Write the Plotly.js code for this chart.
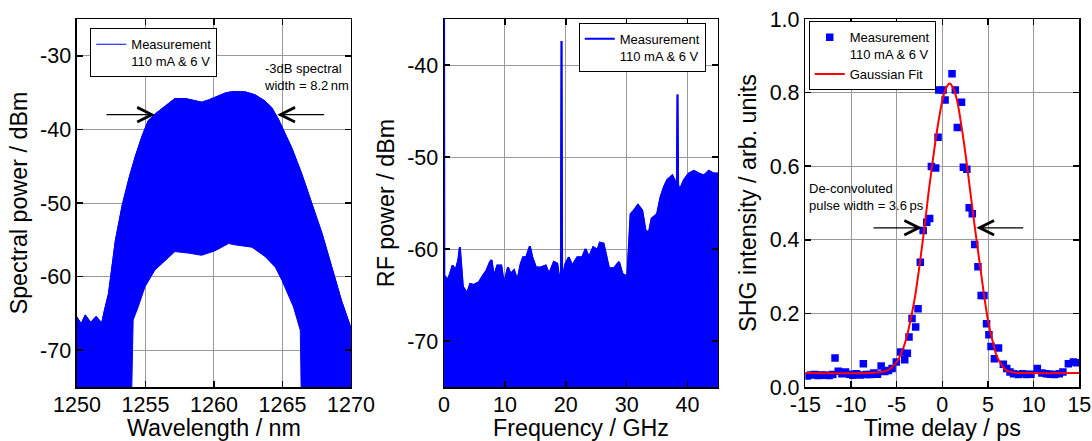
<!DOCTYPE html>
<html>
<head>
<meta charset="utf-8">
<script src="https://cdn.plot.ly/plotly-3.0.1.min.js"></script>
<style>html,body{margin:0;padding:0;background:#fff;}#chart{width:1092px;height:441px;}</style>
</head>
<body>
<div id="chart"></div>
<script>
// ---------- Panel 1: optical spectrum (envelopes of the dense measurement) ----------
const specUpperX = [1250, 1250.3, 1250.6, 1251.0, 1251.4, 1251.8, 1252.0, 1252.3, 1252.8, 1253.3, 1253.8, 1254.25, 1254.75, 1255.2, 1255.7, 1256.2, 1256.7, 1257.15, 1257.9, 1258.5, 1259.1, 1259.6, 1260.1, 1260.9, 1261.5, 1262.3, 1263.0, 1263.7, 1264.2, 1264.7, 1265.2, 1265.7, 1266.4, 1267.15, 1267.9, 1268.6, 1269.3, 1269.8, 1270];
const specUpperY = [-65.5, -66.4, -65.2, -66.2, -65.4, -66.3, -64.6, -62.3, -55.1, -50.3, -46.6, -43.7, -40.9, -38.8, -37.9, -37.2, -36.4, -35.8, -35.8, -36.1, -36.3, -36.0, -35.6, -35.0, -34.85, -34.9, -35.3, -36.1, -37.0, -38.6, -40.6, -42.6, -46.0, -50.1, -54.2, -58.7, -63.2, -65.9, -67.0];
const specLowerX = [1250, 1253.9, 1254.0, 1254.1, 1254.47, 1254.96, 1255.69, 1256.42, 1257.15, 1258.12, 1259.1, 1260.07, 1261.07, 1261.6, 1262.77, 1263.75, 1264.47, 1264.96, 1265.45, 1265.8, 1266.3, 1266.4, 1270];
const specLowerY = [-80, -80, -75, -65.9, -64.1, -61.4, -59.1, -57.8, -56.6, -56.8, -57.1, -56.5, -55.5, -55.7, -56.0, -57.3, -58.7, -60.5, -62.75, -64.1, -67.3, -80, -80];

// ---------- Panel 2: RF spectrum (upper envelope) ----------
const rfFreq = [0, 0.05, 0.2, 0.55, 1.0, 1.4, 1.9, 2.35, 2.6, 2.85, 3.1, 3.8, 4.3, 4.9, 5.75, 6.3, 7.0, 7.55, 7.8, 8.2, 8.75, 9.4, 9.85, 10.5, 10.95, 11.5, 12.05, 12.6, 13.0, 13.5, 14.1, 14.5, 15.1, 15.9, 16.7, 17.25, 18.05, 18.6, 19.05, 19.2, 19.3, 19.4, 19.5, 19.95, 20.5, 21.05, 21.9, 22.7, 23.25, 23.8, 24.5, 25.2, 25.6, 26.2, 26.55, 27.1, 27.9, 28.75, 29.3, 30.1, 30.65, 31.2, 31.85, 32.55, 33.1, 33.65, 34.1, 35.0, 35.55, 36.1, 36.65, 37.5, 38.0, 38.25, 38.35, 38.45, 38.7, 39.4, 40.2, 41.05, 41.9, 42.7, 43.5, 44.3, 45];
const rfPower = [-30, -63.0, -63.0, -63.4, -62.7, -61.8, -62.3, -61.2, -59.8, -62.0, -64.1, -64.8, -63.8, -63.9, -63.6, -63.0, -62.3, -61.4, -61.2, -63.0, -61.8, -61.8, -63.8, -62.0, -62.7, -62.3, -63.4, -61.6, -60.9, -60.9, -59.7, -60.9, -62.0, -62.0, -61.8, -62.7, -61.4, -61.6, -63.9, -62.5, -37.4, -62.5, -63.0, -61.6, -60.9, -61.8, -60.9, -60.9, -60.0, -60.9, -59.8, -60.1, -59.3, -59.4, -60.5, -62.1, -62.1, -61.4, -62.7, -63.0, -56.2, -55.8, -55.2, -55.8, -58.0, -58.2, -56.7, -56.2, -54.4, -53.3, -52.5, -52.0, -52.7, -53.0, -43.2, -53.0, -53.6, -52.5, -51.8, -51.5, -51.8, -52.0, -51.5, -51.8, -51.8];
const rfFloorX = [0, 45];
const rfFloorY = [-80, -80];

// ---------- Panel 3: SHG autocorrelation ----------
const shgDelay = [-14.8, -14.4, -14.0, -13.6, -13.2, -12.8, -12.4, -12.0, -11.75, -11.4, -11.0, -10.6, -10.2, -9.8, -9.4, -9.0, -8.65, -8.3, -7.9, -7.5, -7.1, -6.7, -6.3, -5.9, -5.5, -5.04, -4.56, -4.12, -3.83, -3.65, -3.32, -2.92, -2.66, -2.41, -2.1, -1.71, -1.39, -1.2, -0.73, -0.47, -0.39, 0.08, 0.3, 1.06, 1.42, 1.64, 2.1, 2.3, 2.68, 2.94, 3.28, 3.55, 3.9, 4.25, 4.56, 4.84, 5.1, 5.33, 5.7, 6.15, 6.68, 7.05, 7.41, 7.8, 8.32, 8.8, 9.23, 9.7, 10.4, 10.9, 11.4, 11.8, 12.3, 12.8, 13.2, 13.8, 14.35, 14.7];
const shgSignal = [0.030, 0.033, 0.034, 0.031, 0.033, 0.032, 0.031, 0.034, 0.079, 0.043, 0.036, 0.041, 0.035, 0.032, 0.036, 0.033, 0.063, 0.034, 0.034, 0.038, 0.035, 0.057, 0.042, 0.045, 0.050, 0.068, 0.095, 0.074, 0.092, 0.136, 0.186, 0.163, 0.213, 0.339, 0.425, 0.448, 0.458, 0.599, 0.595, 0.679, 0.807, 0.807, 0.780, 0.851, 0.807, 0.705, 0.774, 0.597, 0.592, 0.487, 0.471, 0.387, 0.327, 0.249, 0.249, 0.172, 0.142, 0.110, 0.077, 0.106, 0.062, 0.050, 0.041, 0.036, 0.034, 0.036, 0.034, 0.035, 0.050, 0.038, 0.036, 0.035, 0.034, 0.036, 0.041, 0.063, 0.068, 0.066];
const fitDelay = [-15, -8, -7, -6, -5, -4.5, -4, -3.5, -3, -2.5, -2, -1.5, -1, -0.5, 0, 0.4, 0.8, 1.2, 1.6, 2, 2.5, 3, 3.5, 4, 4.5, 5, 5.5, 6, 6.5, 7, 8, 9, 15];
const fitSignal = [0.038, 0.038, 0.040, 0.045, 0.068, 0.092, 0.127, 0.180, 0.244, 0.330, 0.425, 0.530, 0.624, 0.710, 0.778, 0.812, 0.825, 0.812, 0.780, 0.724, 0.640, 0.543, 0.445, 0.353, 0.262, 0.181, 0.125, 0.081, 0.060, 0.045, 0.039, 0.038, 0.038];

// ---------- Ticks ----------
const specTickVals = [1250, 1255, 1260, 1265, 1270];
const specTickText = ['1250', '1255', '1260', '1265', '1270'];
const specYTickVals = [-70, -60, -50, -40, -30];
const specYTickText = ['-70', '-60', '-50', '-40', '-30'];
const rfTickVals = [0, 10, 20, 30, 40];
const rfTickText = ['0', '10', '20', '30', '40'];
const rfYTickVals = [-70, -60, -50, -40];
const rfYTickText = ['-70', '-60', '-50', '-40'];
const shgTickVals = [-15, -10, -5, 0, 5, 10, 15];
const shgTickText = ['-15', '-10', '-5', '0', '5', '10', '15'];
const shgYTickVals = [0, 0.2, 0.4, 0.6, 0.8, 1.0];
const shgYTickText = ['0.0', '0.2', '0.4', '0.6', '0.8', '1.0'];

const legendName = 'Measurement<br>110 mA &amp; 6 V';
const BLUE = '#0000ff';
const RED = '#ff0000';
const FONT = 'Liberation Sans, Arial, sans-serif';
const TICK_SIZE = 21.5;
const TITLE_SIZE = 23.3;

const traces = [
  // panel 1
  {x: specLowerX, y: specLowerY, xaxis: 'x', yaxis: 'y', mode: 'lines', line: {color: BLUE, width: 1}, showlegend: false, hoverinfo: 'skip'},
  {x: specUpperX, y: specUpperY, xaxis: 'x', yaxis: 'y', mode: 'lines', line: {color: BLUE, width: 1}, fill: 'tonexty', fillcolor: BLUE, showlegend: false},
  {x: specUpperX, y: specUpperY, xaxis: 'x', yaxis: 'y', mode: 'lines', line: {color: BLUE, width: 1}, name: legendName, legend: 'legend', showlegend: true},
  // panel 2
  {x: rfFloorX, y: rfFloorY, xaxis: 'x2', yaxis: 'y2', mode: 'lines', line: {color: BLUE, width: 0}, showlegend: false, hoverinfo: 'skip'},
  {x: rfFreq, y: rfPower, xaxis: 'x2', yaxis: 'y2', mode: 'lines', line: {color: BLUE, width: 1.5}, fill: 'tonexty', fillcolor: BLUE, showlegend: false},
  {x: rfFreq, y: rfPower, xaxis: 'x2', yaxis: 'y2', mode: 'lines', line: {color: BLUE, width: 2}, name: legendName, legend: 'legend2', showlegend: true},
  // panel 3
  {x: shgDelay, y: shgSignal, xaxis: 'x3', yaxis: 'y3', mode: 'markers', marker: {symbol: 'square', size: 7.5, color: BLUE}, name: legendName, legend: 'legend3'},
  {x: fitDelay, y: fitSignal, xaxis: 'x3', yaxis: 'y3', mode: 'lines', line: {color: RED, width: 2, shape: 'spline', smoothing: 1}, name: 'Gaussian Fit', legend: 'legend3'}
];

function axis(domain, range, tickvals, ticktext, title, anchor, standoff, isX) {
  const a = {
    domain: domain, range: range, anchor: anchor, tickmode: 'array', tickvals: tickvals, ticktext: ticktext,
    showgrid: true, gridcolor: '#9a9a9a', gridwidth: 1, zeroline: false,
    showline: true, linecolor: '#000', linewidth: 1.5, mirror: 'ticks',
    ticks: 'inside', ticklen: 6, tickwidth: 1.5, tickcolor: '#000',
    tickfont: {family: FONT, size: TICK_SIZE, color: '#000'},
    title: {text: title, standoff: standoff, font: {family: FONT, size: TITLE_SIZE, color: '#000'}},
    fixedrange: true
  };
  if (isX) a.ticklabelstandoff = -2;
  return a;
}

function legendBox(x, y) {
  return {x: x, y: y, xanchor: 'left', yanchor: 'top', bgcolor: '#fff', bordercolor: '#000', borderwidth: 1,
          font: {family: FONT, size: 13, color: '#000'}, valign: 'top', tracegroupgap: 0};
}

function arrow(xref, yref, x, y, ax, ay) {
  return {xref: xref, yref: yref, axref: xref, ayref: yref, x: x, y: y, ax: ax, ay: ay, text: '', showarrow: true,
          arrowhead: 5, arrowsize: 2.2, arrowwidth: 1.3, arrowcolor: '#000', standoff: 0};
}

const yDom = [0.1224, 0.9569];
const layout = {
  width: 1092, height: 441,
  margin: {l: 0, r: 0, t: 0, b: 0, pad: 0},
  paper_bgcolor: '#fff', plot_bgcolor: '#fff',
  font: {family: FONT, color: '#000'},
  showlegend: true,
  xaxis: axis([0.0705, 0.3214], [1250, 1270], specTickVals, specTickText, 'Wavelength / nm', 'y', 7, true),
  yaxis: axis(yDom, [-75, -25], specYTickVals, specYTickText, 'Spectral power / dBm', 'x', 6, false),
  xaxis2: axis([0.4066, 0.6575], [0, 45], rfTickVals, rfTickText, 'Frequency / GHz', 'y2', 7, true),
  yaxis2: axis(yDom, [-75, -35], rfYTickVals, rfYTickText, 'RF power / dBm', 'x2', 6, false),
  xaxis3: axis([0.7375, 0.9884], [-15, 15], shgTickVals, shgTickText, 'Time delay / ps', 'y3', 7, true),
  yaxis3: axis(yDom, [0, 1], shgYTickVals, shgYTickText, 'SHG intensity / arb. units', 'x3', 6, false),
  legend: legendBox(0.0827, 0.9358),
  legend2: legendBox(0.5300, 0.9485),
  legend3: legendBox(0.7406, 0.9517),
  annotations: [
    {xref: 'paper', yref: 'paper', x: 0.2396, y: 0.8265, xanchor: 'left', yanchor: 'middle', align: 'left', showarrow: false,
     text: '-3dB spectral<br>width = 8.2\u2009nm', font: {family: FONT, size: 13, color: '#000'}},
    arrow('x', 'y', 1255.69, -38.0, 1252.04, -38.0),
    arrow('x', 'y', 1264.62, -38.0, 1268.15, -38.0),
    {xref: 'paper', yref: 'paper', x: 0.739, y: 0.5526, xanchor: 'left', yanchor: 'middle', align: 'left', showarrow: false,
     text: 'De-convoluted<br>pulse width = 3.6\u2009ps', font: {family: FONT, size: 13, color: '#000'}},
    arrow('x3', 'y3', -2.22, 0.4327, -7.70, 0.4327),
    arrow('x3', 'y3', 3.72, 0.4327, 9.02, 0.4327)
  ]
};

Plotly.newPlot('chart', traces, layout, {staticPlot: true, displayModeBar: false});
</script>
</body>
</html>
